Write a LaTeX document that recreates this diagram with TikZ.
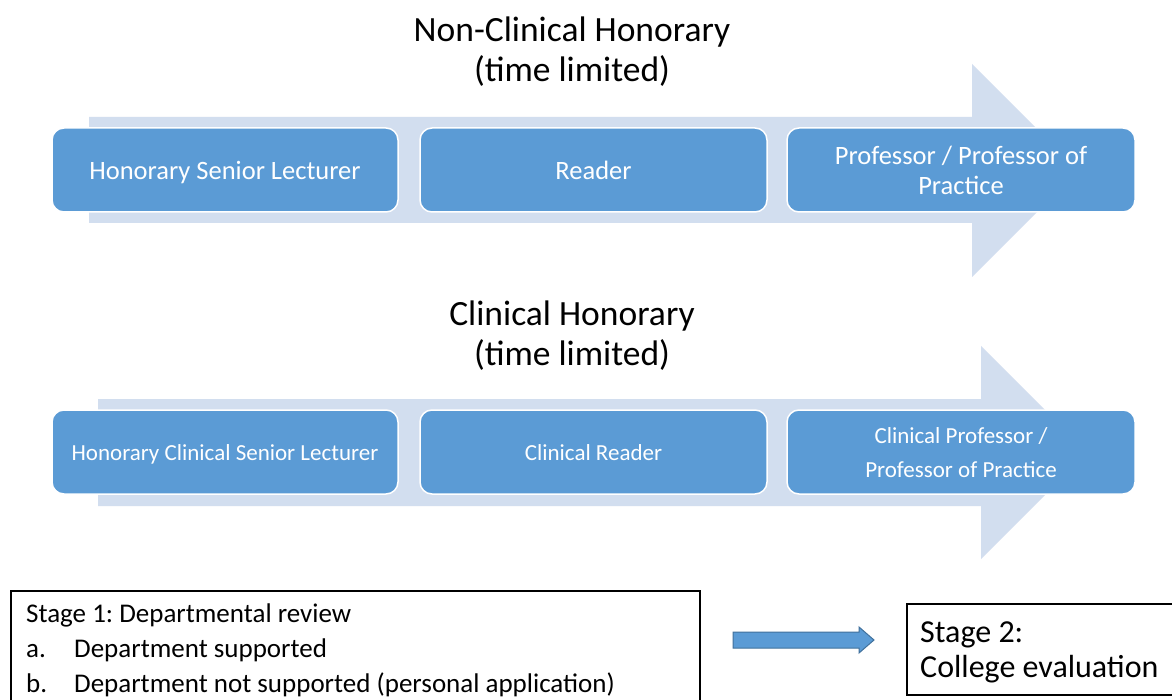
\documentclass[tikz,border=0pt]{standalone}
\usepackage{fontspec}
\setmainfont{Carlito}
\frenchspacing
\definecolor{boxblue}{HTML}{5B9BD5}
\definecolor{arrowpale}{HTML}{D2DEEF}
\definecolor{arrowedge}{HTML}{41719C}
\newcommand\tsingle{\rule[-7pt]{0pt}{34pt}}
\newcommand\tfirst{\rule{0pt}{27pt}}
\newcommand\tlast{\rule[-7pt]{0pt}{7pt}}
\newcommand\lsingle{\rule[-6pt]{0pt}{29.6pt}}
\newcommand\lfirst{\rule{0pt}{23.6pt}}
\newcommand\llast{\rule[-6pt]{0pt}{6pt}}
\begin{document}
\begin{tikzpicture}[x=1pt,y=-1pt,
  stepbox/.style={draw=white,line width=1.5pt,fill=boxblue,rounded corners=12pt,text=white,align=center,inner sep=0pt,minimum height=84pt},
  toptext/.style={font=\fontsize{26.5}{30}\selectfont},
  lowtext/.style={font=\fontsize{23}{34}\selectfont},
  titletext/.style={align=center,font=\fontsize{35.5}{40}\selectfont,inner sep=0pt},
  stagetext/.style={anchor=base west,inner sep=0pt,font=\fontsize{27}{35}\selectfont},
  stagetwotext/.style={anchor=base west,inner sep=0pt,font=\fontsize{32}{35}\selectfont},
  stageframe/.style={draw=black,line width=1.5pt,anchor=north west,inner sep=0pt},
  bigarrow/.style={fill=arrowpale}
]
\useasboundingbox (0,0) rectangle (1172,700);
\fill[white] (0,0) rectangle (1172,700);

% ---------- Non-clinical ----------
\node[titletext] (title1) at (572,52) {Non-Clinical Honorary\\(time limited)};
\fill[bigarrow] (89,117) -- (972,117) -- (972,64) -- (1078.5,170.5) -- (972,277) -- (972,223) -- (89,223) -- cycle;
\node[stepbox,toptext,minimum width=346pt] (hsl) at (225,170) {\tsingle Honorary Senior Lecturer};
\node[stepbox,toptext,minimum width=347pt] (reader) at (593.5,170) {\tsingle Reader};
\node[stepbox,toptext,minimum width=348pt] (prof) at (961,170) {\tfirst Professor / Professor of\\\tlast Practice};

% ---------- Clinical ----------
\node[titletext] (title2) at (572,336) {Clinical Honorary\\(time limited)};
\fill[bigarrow] (98,399) -- (981,399) -- (981,346) -- (1087.5,452.5) -- (981,559) -- (981,506) -- (98,506) -- cycle;
\node[stepbox,lowtext,minimum width=346pt] (hcsl) at (225,452) {\lsingle Honorary Clinical Senior Lecturer};
\node[stepbox,lowtext,minimum width=347pt] (creader) at (593.5,452) {\lsingle Clinical Reader};
\node[stepbox,lowtext,minimum width=348pt] (cprof) at (961,452) {\lfirst Clinical Professor /\\\llast Professor of Practice};

% ---------- Stages ----------
\node[stageframe,minimum width=689pt,minimum height=130pt] (stage1) at (10,590) {};
\node[stagetext] (s1a) at (26,622) {Stage 1: Departmental review};
\node[stagetext] (s1b) at (26,657) {\makebox[48pt][l]{a.}Department supported};
\node[stagetext] (s1c) at (26,692) {\makebox[48pt][l]{b.}Department not supported (personal application)};

\node[stageframe,minimum width=300pt,minimum height=91pt] (stage2) at (906,603) {};
\node[stagetwotext] (s2a) at (920,642) {Stage 2:};
\node[stagetwotext] (s2b) at (920,677) {College evaluation};

\draw[fill=boxblue,draw=arrowedge,line width=1pt] (733,632) -- (859,632) -- (859,627) -- (874,640) -- (859,653) -- (859,648) -- (733,648) -- cycle;
\end{tikzpicture}
\end{document}
